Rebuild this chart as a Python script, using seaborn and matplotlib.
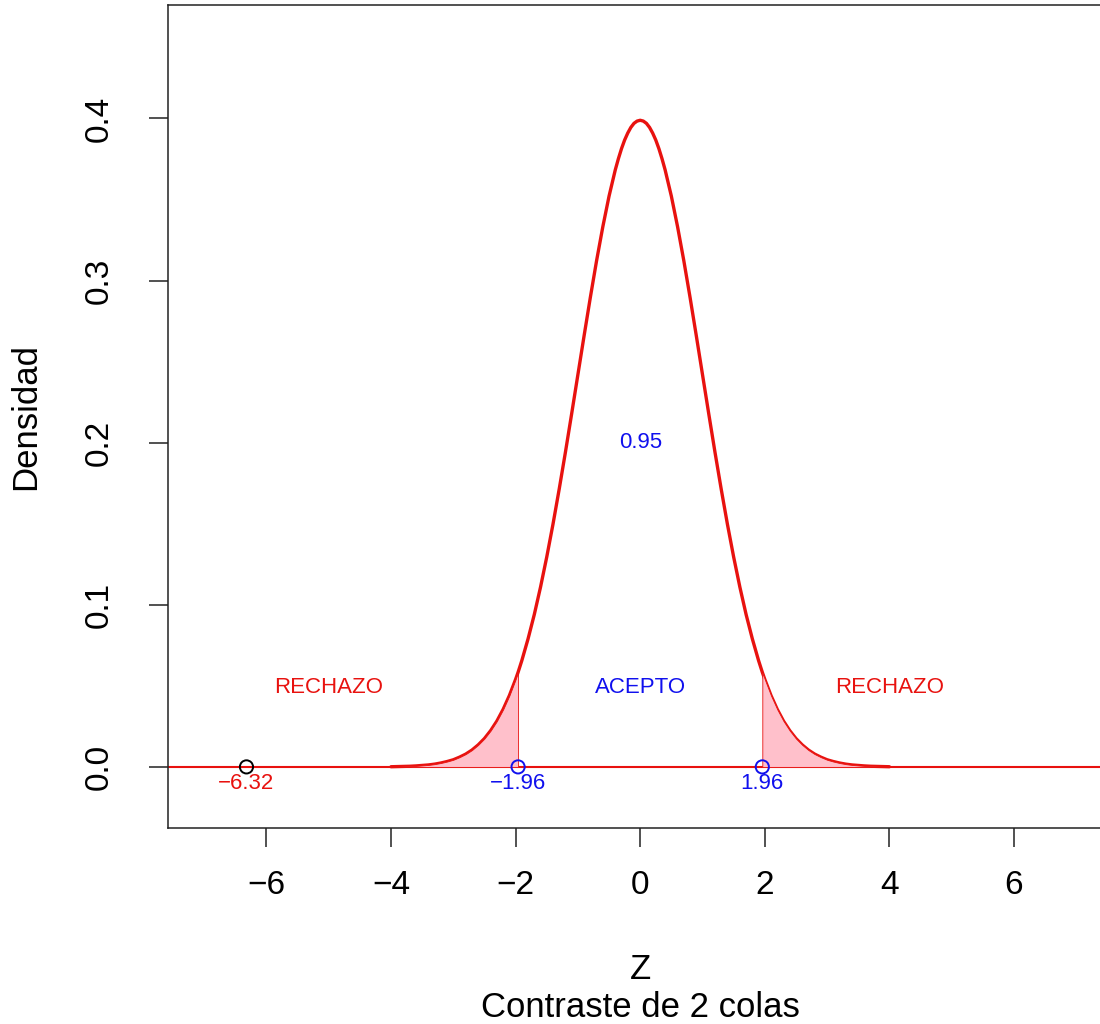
import numpy as np
import pandas as pd
import seaborn as sns
import matplotlib
matplotlib.use("Agg")
from matplotlib import pyplot as plt

# densidad normal estandar (mitad positiva, simetrica)
z_half = [0.0, 0.05, 0.1, 0.15, 0.2, 0.25, 0.3, 0.35, 0.4, 0.5, 0.6, 0.7, 0.8, 0.9,
          1.0, 1.1, 1.2, 1.3, 1.4, 1.5, 1.6, 1.7, 1.8, 1.9, 1.96,
          2.0, 2.1, 2.2, 2.3, 2.4, 2.5, 2.6, 2.7, 2.8, 2.9,
          3.0, 3.1, 3.2, 3.3, 3.4, 3.5, 3.6, 3.7, 3.8, 3.9, 4.0]
dens_half = [0.3989, 0.3984, 0.3970, 0.3945, 0.3910, 0.3867, 0.3814, 0.3752, 0.3683,
             0.3521, 0.3332, 0.3123, 0.2897, 0.2661,
             0.2420, 0.2179, 0.1942, 0.1714, 0.1497, 0.1295, 0.1109, 0.0940, 0.0790, 0.0656, 0.0584,
             0.0540, 0.0440, 0.0355, 0.0283, 0.0224, 0.0175, 0.0136, 0.0104, 0.0079, 0.0060,
             0.0044, 0.0033, 0.0024, 0.0017, 0.0012, 0.0009, 0.0006, 0.0004, 0.0003, 0.0002, 0.0001]

z_crit = 1.96
z_obs = -6.32
xticks = [-6, -4, -2, 0, 2, 4, 6]
yticks = [0.0, 0.1, 0.2, 0.3, 0.4]

z_all = np.concatenate([-np.array(z_half[:0:-1]), np.array(z_half)])
d_all = np.concatenate([np.array(dens_half[:0:-1]), np.array(dens_half)])
curva = pd.DataFrame({"z": z_all, "dens": d_all})

sns.set_theme(style="ticks")
plt.rcParams['font.family'] = ['Liberation Sans', 'DejaVu Sans']
plt.rcParams['text.color'] = 'black'
plt.rcParams['axes.labelcolor'] = 'black'
plt.rcParams['xtick.color'] = 'black'
plt.rcParams['ytick.color'] = 'black'

rojo = "#e8120f"
azul = "#1010ee"

fig = plt.figure(figsize=(11, 10.24), dpi=100)
ax = fig.add_axes([0.1527, 0.1914, 0.8586, 0.8037])

ax.axhline(0, color=rojo, lw=1.5, zorder=1)
sns.lineplot(data=curva, x="z", y="dens", color=rojo, lw=2.4,
             estimator=None, sort=True, ax=ax, zorder=2)

izq = curva[curva.z <= -z_crit]
der = curva[curva.z >= z_crit]
for t in [izq, der]:
    ax.fill_between(t.z, 0, t.dens, color="#ffc0cb", edgecolor=rojo,
                    lw=0.6, zorder=3)

puntos = pd.DataFrame({"z": [z_obs, -z_crit, z_crit], "y": [0, 0, 0],
                       "c": ["k", "b", "b"]})
for _, p in puntos.iterrows():
    ax.scatter(p.z, p.y, s=90, facecolors="none",
               edgecolors="black" if p.c == "k" else azul, lw=1.4, zorder=5)

fs = 16
ax.text(z_obs, -0.0105, "\u22126.32", color=rojo, ha="center", va="center", fontsize=fs)
ax.text(-z_crit, -0.0105, "\u22121.96", color=azul, ha="center", va="center", fontsize=fs)
ax.text(z_crit, -0.0105, "1.96", color=azul, ha="center", va="center", fontsize=fs)
ax.text(-5, 0.049, "RECHAZO", color=rojo, ha="center", va="center", fontsize=fs)
ax.text(4, 0.049, "RECHAZO", color=rojo, ha="center", va="center", fontsize=fs)
ax.text(0, 0.049, "ACEPTO", color=azul, ha="center", va="center", fontsize=fs)
ax.text(0, 0.2, "0.95", color=azul, ha="center", va="center", fontsize=fs)

ax.set_xlim(-7.58, 7.58)
ax.set_ylim(-0.0377, 0.470)
ax.set_xticks(xticks)
ax.set_xticklabels([str(v).replace("-", "\u2212") for v in xticks])
ax.set_yticks(yticks)
ax.set_yticklabels([f"{v:.1f}" for v in yticks], rotation=90, va="center")
ax.tick_params(axis="both", length=14, width=1.1, color="#222222", labelsize=24,
               labelcolor="black")
ax.tick_params(axis="x", pad=16)
ax.tick_params(axis="y", pad=24)
for s in ax.spines.values():
    s.set_linewidth(1.1)
    s.set_color("#222222")

ax.set_xlabel("Z", fontsize=25, labelpad=38)
ax.set_ylabel("Densidad", fontsize=25, labelpad=30)
fig.text(0.5818, 0.0165, "Contraste de 2 colas", ha="center", va="center", fontsize=25)

plt.savefig("out.png", dpi=100)
